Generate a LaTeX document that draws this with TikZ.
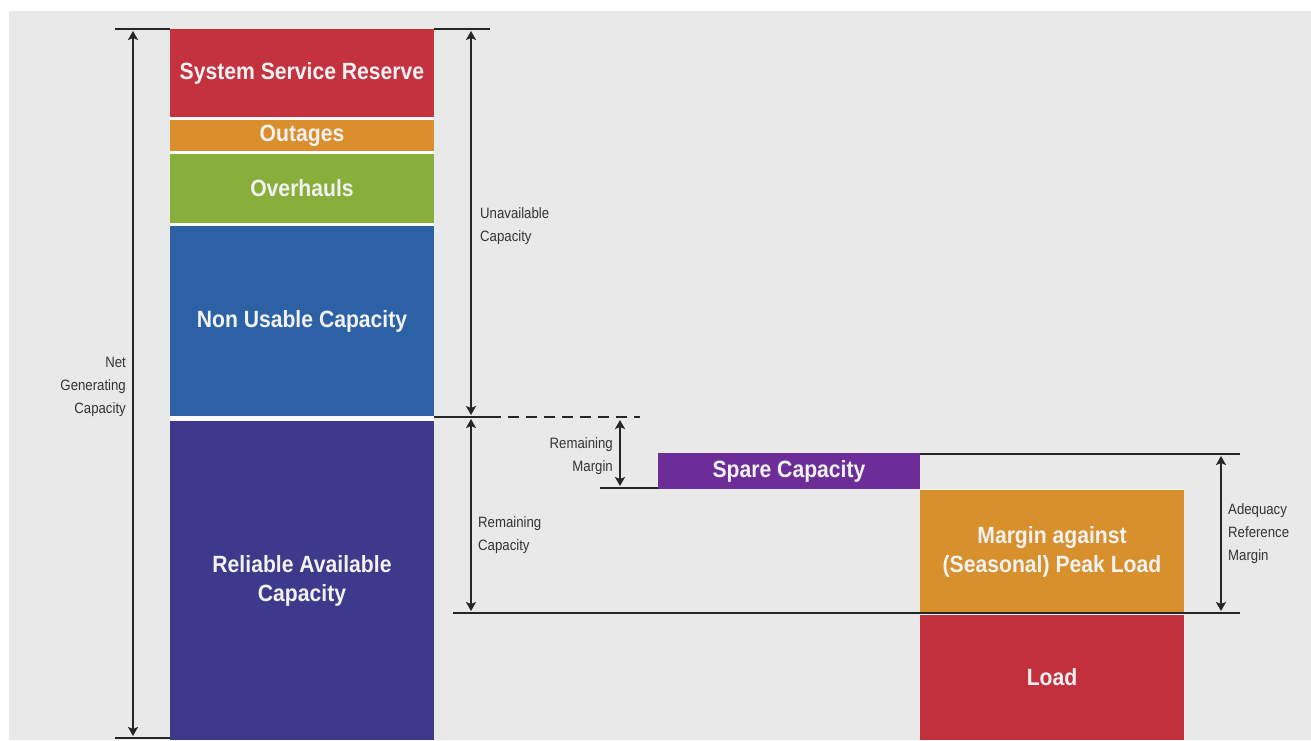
\documentclass[tikz,border=0pt]{standalone}
\usepackage{fontspec}
\setmainfont{Liberation Sans}[FakeStretch=0.88]
\newfontfamily\barfont{Liberation Sans}[FakeStretch=0.9]
\usetikzlibrary{arrows.meta}
\definecolor{bggray}{HTML}{E9E9E9}
\definecolor{ssred}{HTML}{C4313F}
\definecolor{outorange}{HTML}{DB8E2C}
\definecolor{ovgreen}{HTML}{88AF3B}
\definecolor{nublue}{HTML}{2C62A5}
\definecolor{ravblue}{HTML}{3D398B}
\definecolor{sparepurple}{HTML}{6C2D98}
\definecolor{marginorange}{HTML}{D7902C}
\definecolor{loadred}{HTML}{C2303D}
\definecolor{boxtext}{HTML}{F2F2F2}
\definecolor{labeltext}{HTML}{333333}
\tikzset{
  x=1pt, y=-1pt,
  bar/.style={anchor=north west, inner sep=0pt, outer sep=0pt,
    text=boxtext, font=\barfont\bfseries\fontsize{23.5}{29}\selectfont, align=center},
  dimline/.style={line width=1.6pt, draw=black!85},
  dimarrow/.style={line width=1.6pt, draw=black!85,
    {Stealth[length=9pt,width=10pt,inset=2pt]}-{Stealth[length=9pt,width=10pt,inset=2pt]}},
  tag/.style={font=\fontsize{15}{23}\selectfont, text=labeltext, inner sep=0pt},
}
\begin{document}
\begin{tikzpicture}
  \useasboundingbox (0,0) rectangle (1311,740);
  \fill[white] (0,0) rectangle (1311,740);
  \fill[bggray] (9,11) rectangle (1311,740);

  % thin light separators behind the stacked bars
  \fill[white!90!bggray] (170,29) rectangle (434,740);
  \fill[white!90!bggray] (920,489) rectangle (1184,740);

  % left column: net generating capacity split
  \node[bar, fill=ssred, minimum width=264pt, minimum height=88pt] (ssr) at (170,29) {System Service Reserve};
  \node[bar, fill=outorange, minimum width=264pt, minimum height=31pt] (outages) at (170,120) {Outages};
  \node[bar, fill=ovgreen, minimum width=264pt, minimum height=69pt] (overhauls) at (170,154) {Overhauls};
  \node[bar, fill=nublue, minimum width=264pt, minimum height=190pt] (nonusable) at (170,226) {Non Usable Capacity};
  \node[bar, fill=ravblue, minimum width=264pt, minimum height=319pt] (reliable) at (170,421) {Reliable Available\\Capacity};

  % right side: spare capacity, margin and load
  \node[bar, fill=sparepurple, minimum width=262pt, minimum height=36pt] (spare) at (658,453) {Spare Capacity};
  \node[bar, fill=marginorange, minimum width=264pt, minimum height=123pt] (margin) at (920,490) {Margin against\\(Seasonal) Peak Load};
  \node[bar, fill=loadred, minimum width=264pt, minimum height=125pt] (load) at (920,615) {Load};

  % reference levels
  \coordinate (topL) at (115,29);
  \coordinate (topR) at (490,29);
  \coordinate (botL) at (115,738);
  \coordinate (rcL) at (434,417);
  \coordinate (rcM) at (490,417);
  \coordinate (rcR) at (640,417);
  \coordinate (smL) at (600,488);
  \coordinate (spR) at (1240,454);
  \coordinate (loadL) at (453,613);
  \coordinate (loadR) at (1240,613);

  \draw[dimline] (topL) -- (ssr.north west);
  \draw[dimline] (ssr.north east) -- (topR);
  \draw[dimline] (botL) -- (botL -| reliable.west);
  \draw[dimline] (rcL) -- (rcM);
  \draw[dimline, dash pattern=on 11pt off 7pt] (rcM) -- (rcR);
  \draw[dimline] (smL) -- (smL -| spare.west);
  \draw[dimline] (spR -| spare.east) -- (spR);
  \draw[dimline] (loadL) -- (loadR);

  % dimension arrows
  \coordinate (ngcT) at (133,31);
  \coordinate (ngcB) at (133,736);
  \coordinate (uncT) at (471,31);
  \coordinate (uncB) at (471,415);
  \coordinate (remT) at (471,419);
  \coordinate (remB) at (471,611);
  \coordinate (rmT) at (620,420);
  \coordinate (rmB) at (620,486);
  \coordinate (arT) at (1221,456);
  \coordinate (arB) at (1221,611);
  \draw[dimarrow] (ngcT) -- (ngcB);
  \draw[dimarrow] (uncT) -- (uncB);
  \draw[dimarrow] (remT) -- (remB);
  \draw[dimarrow] (rmT) -- (rmB);
  \draw[dimarrow] (arT) -- (arB);

  % labels
  \node[tag, anchor=east, align=right] (ngclabel) at (126,387) {Net\\Generating\\Capacity};
  \node[tag, anchor=west, align=left] (unclabel) at (480,226) {Unavailable\\Capacity};
  \node[tag, anchor=east, align=right] (rmlabel) at (613,456) {Remaining\\Margin};
  \node[tag, anchor=west, align=left] (remlabel) at (478,535) {Remaining\\Capacity};
  \node[tag, anchor=west, align=left] (arlabel) at (1228,534) {Adequacy\\Reference\\Margin};
\end{tikzpicture}
\end{document}
